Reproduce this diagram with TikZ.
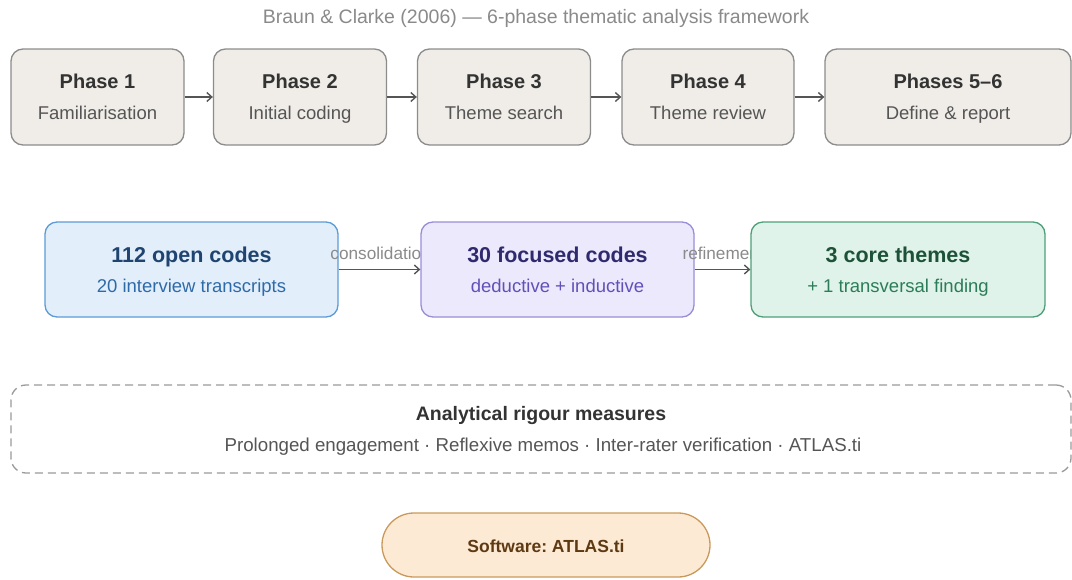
\documentclass[tikz,border=0pt]{standalone}
\usepackage{fontspec}
\setmainfont{Liberation Sans}
\usetikzlibrary{arrows.meta,calc}
\frenchspacing

\definecolor{phasefill}{HTML}{F0EDE8}
\definecolor{phaseline}{HTML}{8C8C8C}
\definecolor{inkdark}{HTML}{333333}
\definecolor{inkmid}{HTML}{555555}
\definecolor{inklight}{HTML}{8A8A8A}
\definecolor{bluefill}{HTML}{E2EFFB}
\definecolor{blueline}{HTML}{5C9BD6}
\definecolor{bluetitle}{HTML}{1F4470}
\definecolor{bluesub}{HTML}{2F6AA8}
\definecolor{violetfill}{HTML}{ECE9FC}
\definecolor{violetline}{HTML}{9A8DD8}
\definecolor{violettitle}{HTML}{2F2A6E}
\definecolor{violetsub}{HTML}{6250B8}
\definecolor{greenfill}{HTML}{E0F3EA}
\definecolor{greenline}{HTML}{4E9F78}
\definecolor{greentitle}{HTML}{1D5238}
\definecolor{greensub}{HTML}{2B7C57}
\definecolor{pillfill}{HTML}{FDEAD5}
\definecolor{pillline}{HTML}{C9995C}
\definecolor{pillink}{HTML}{5E3A12}
\definecolor{dashline}{HTML}{9A9A9A}
\definecolor{arrowink}{HTML}{555555}

\tikzset{
  box/.style={rounded corners=12pt, line width=1.3pt, inner sep=0pt},
  phasebox/.style={box, draw=phaseline, fill=phasefill, minimum height=96pt},
  stagebox/.style={box, minimum width=293pt, minimum height=95pt},
  ttl/.style={anchor=base, inner sep=0pt, font=\bfseries\fontsize{20}{24}\selectfont},
  sub/.style={anchor=base, inner sep=0pt, font=\fontsize{18.5}{22}\selectfont},
  stagettl/.style={anchor=base, inner sep=0pt, font=\bfseries\fontsize{21.5}{26}\selectfont},
  flow/.style={draw=arrowink, line width=1.4pt, -{Straight Barb[length=5pt,width=9pt]}},
  flowlabel/.style={anchor=base, inner sep=0pt, text=inklight, font=\fontsize{17.2}{20}\selectfont},
}

\begin{document}
\begin{tikzpicture}[x=1pt, y=-1pt]
\useasboundingbox (0,0) rectangle (1072,579);

% heading
\node[anchor=base, inner sep=0pt, text=inklight, font=\fontsize{19.5}{23}\selectfont]
  (heading) at (536,23.5) {Braun \& Clarke (2006) — 6-phase thematic analysis framework};

% the six phases
\node[phasebox, minimum width=173pt] (p1) at (97.5,97) {};
\node[phasebox, minimum width=173pt] (p2) at (300,97) {};
\node[phasebox, minimum width=173pt] (p3) at (504,97) {};
\node[phasebox, minimum width=172pt] (p4) at (708,97) {};
\node[phasebox, minimum width=246pt] (p5) at (948,97) {};

\foreach \n/\t/\s in {p1/Phase 1/Familiarisation, p2/Phase 2/Initial coding,
                      p3/Phase 3/Theme search, p4/Phase 4/Theme review,
                      p5/Phases 5–6/Define \& report}{
  \node[ttl, text=inkdark] (\n t) at ($(\n.center)+(0,-9)$) {\t};
  \node[sub, text=inkmid] (\n s) at ($(\n.center)+(0,22)$) {\s};
}

\draw[flow] (p1) -- (p2);
\draw[flow] (p2) -- (p3);
\draw[flow] (p3) -- (p4);
\draw[flow] (p4) -- (p5);

% coding stages; each arrow label is laid over the box on its left
% and tucked under the box on its right
\node[stagebox, draw=blueline, fill=bluefill] (c1) at (191.5,269.5) {};
\node[flowlabel] (l1) at ($(c1.east)+(42,-10)$) {consolidation};
\node[stagebox, draw=violetline, fill=violetfill, minimum width=273pt] (c2) at (557.5,269.5) {};
\node[flowlabel] (l2) at ($(c2.east)+(28.5,-10)$) {refinement};
\node[stagebox, draw=greenline, fill=greenfill, minimum width=294pt] (c3) at (898,269.5) {};

\node[stagettl, text=bluetitle] (c1t) at ($(c1.center)+(0,-7.5)$) {112 open codes};
\node[sub, text=bluesub] (c1s) at ($(c1.center)+(0,22.5)$) {20 interview transcripts};
\node[stagettl, text=violettitle] (c2t) at ($(c2.center)+(0,-7.5)$) {30 focused codes};
\node[sub, text=violetsub] (c2s) at ($(c2.center)+(0,22.5)$) {deductive + inductive};
\node[stagettl, text=greentitle] (c3t) at ($(c3.center)+(0,-7.5)$) {3 core themes};
\node[sub, text=greensub] (c3s) at ($(c3.center)+(0,22.5)$) {+ 1 transversal finding};

\draw[flow] (c1) -- (c2);
\draw[flow] (c2) -- (c3);

% rigour measures
\node[draw=dashline, line width=1.3pt, dash pattern=on 8pt off 5pt, rounded corners=15pt,
      minimum width=1060pt, minimum height=88pt, inner sep=0pt] (rig) at (541,429) {};
\node[anchor=base, inner sep=0pt, text=inkdark, font=\bfseries\fontsize{19.5}{23}\selectfont]
  (rigt) at ($(rig.center)+(0,-9)$) {Analytical rigour measures};
\node[anchor=base, inner sep=0pt, text=inkmid, font=\fontsize{18.7}{22}\selectfont]
  (rigs) at ($(rig.center)+(2,22.5)$) {Prolonged engagement · Reflexive memos · Inter-rater verification · ATLAS.ti};

% software
\node[draw=pillline, fill=pillfill, line width=1.3pt, rounded corners=32pt,
      minimum width=328pt, minimum height=64pt, inner sep=0pt] (sw) at (546,545) {};
\node[anchor=base, inner sep=0pt, text=pillink, font=\bfseries\fontsize{17.5}{21}\selectfont]
  (swt) at ($(sw.center)+(0,7)$) {Software: ATLAS.ti};
\end{tikzpicture}
\end{document}
